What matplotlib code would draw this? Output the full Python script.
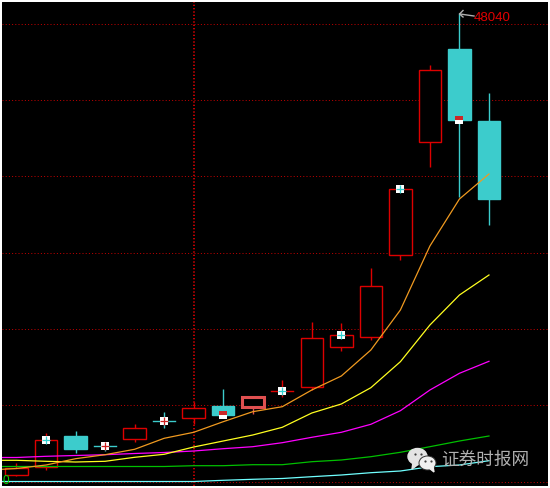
import matplotlib
matplotlib.use('Agg')
import matplotlib.pyplot as plt
from matplotlib.patches import Ellipse, Polygon, Rectangle

# readings are height above the zero line of the chart
opens  = [6.8, 15, 45.5, 35.2, 42.5, 60.2, 63.8, 75.5, 74.2, 90.2, 94.5, 134.5, 144.5, 226.5, 339.5, 432.5, 360.5]
closes = [13.8, 41.5, 32.5, 35.2, 53.5, 60.2, 73.5, 66.5, 84.8, 90.2, 143.5, 146.5, 195.5, 292.5, 411.5, 361.5, 282.5]
highs  = [18.5, 48.5, 50.5, 39.5, 57.5, 69.5, 79.8, 92.5, 84.8, 101.5, 159.5, 158.5, 213.5, 292.5, 416.5, 468.5, 388.5]
lows   = [5.5, 11.5, 28.5, 30.5, 39.5, 53.5, 57.8, 66.5, 67.5, 84.8, 91.5, 130.5, 141.5, 222, 314.5, 284.5, 256.5]
doji_cyan = [3, 5]
salmon_bar = 8

ma_x = [-0.5, 0, 1, 2, 3, 4, 5, 6, 7, 8, 9, 10, 11, 12, 13, 14, 15, 16]
ma_orange  = [12.2, 13, 16.5, 22.8, 26.8, 32.2, 43.2, 49.2, 59.8, 69.8, 74.8, 91.5, 105.5, 131.5, 171.5, 235.5, 282.5, 307.5]
ma_yellow  = [21.2, 21.2, 20.2, 19.5, 20.2, 24.2, 27.2, 34.5, 40.5, 46.5, 54.2, 68.5, 77.5, 93.8, 119.8, 156.5, 186.5, 206.5]
ma_magenta = [24, 24, 25.2, 26, 26.8, 28, 29, 30.5, 32.8, 34.8, 38.8, 44.2, 49.2, 57.2, 70.8, 91.5, 108.2, 120.2]
ma_green   = [15, 15, 15, 15, 15, 15, 15, 15.8, 15.8, 16.8, 16.8, 19.8, 21.5, 24.8, 29.2, 34.8, 40.5, 45.5]
ma_cyan    = [0, 0, 0, 0, 0, 0, 0, 0, 1.2, 2.2, 3, 4.8, 6.5, 8.8, 10.5, 14.8, 16.5, 20.8]

grid_levels = [0, 76.3, 152.5, 228.5, 305.5, 381.5, 457.5]
grid_bar = 6

# small square flags on some bars: index, level, cross colour
flags = [(1, 41.5, '#30d0d0'), (3, 35.2, '#cc2020'), (5, 60.2, '#cc2020'), (9, 90.2, '#30d0d0'),
         (11, 146.5, '#30d0d0'), (13, 292.5, '#30d0d0')]
half_flags = [(7, 66.5), (15, 361.5)]

peak_label = '48040'
zero_label = '0'
source_label = '证券时报网'

RED = '#dd0000'
CYAN = '#3ccccc'

fig = plt.figure(figsize=(5.5, 4.88), dpi=100, facecolor='white')
ax = fig.add_axes([2/550, 2/488, 546/550, 484/488], facecolor='black')
ax.set_xlim(-0.491, 17.999)
ax.set_ylim(-4.5, 479.5)
ax.axis('off')
ax.add_patch(Rectangle((0, 0), 1, 1, transform=ax.transAxes, color='black', zorder=0))

for g in grid_levels:
    ax.axhline(g, color='#c00000', lw=0.72, ls=(0, (1, 2.2)), zorder=1)
ax.axvline(grid_bar, color='#e00000', lw=1.2, ls=(0, (0.8, 1.2)), zorder=1)

w = 0.76
for i in range(len(opens)):
    o, c, h, l = opens[i], closes[i], highs[i], lows[i]
    top, bot = max(o, c), min(o, c)
    falling = c < o or i in doji_cyan
    col = CYAN if falling else RED
    if i == salmon_bar:
        col = '#e05050'
    lw = 2.2 if i == salmon_bar else 1.0
    ax.plot([i, i], [l, bot], color=col, lw=1, zorder=2, solid_capstyle='butt')
    ax.plot([i, i], [top, h], color=col, lw=1, zorder=2, solid_capstyle='butt')
    if top == bot:
        ax.plot([i - w/2, i + w/2], [top, top], color=col, lw=1, zorder=2)
    else:
        ax.add_patch(Rectangle((i - w/2, bot), w, top - bot, facecolor=CYAN if falling else 'black',
                               edgecolor=col, lw=lw, zorder=2))

ax.plot(ma_x, ma_cyan, color='#70ffff', lw=0.9, zorder=3)
ax.plot(ma_x, ma_green, color='#00c000', lw=0.9, zorder=3)
ax.plot(ma_x, ma_magenta, color='#ff00ff', lw=0.9, zorder=3)
ax.plot(ma_x, ma_yellow, color='#ffff20', lw=0.9, zorder=3)
ax.plot(ma_x, ma_orange, color='#f09a20', lw=0.9, zorder=3)

for i, lev, col in flags:
    ax.plot(i, lev, 's', ms=5.2, color='white', mew=0, zorder=4)
    ax.plot(i, lev, '+', ms=5.2, color=col, mew=0.9, zorder=5)
for i, lev in half_flags:
    ax.plot(i, lev, 's', ms=5.2, fillstyle='top', markerfacecolor='#cc2828',
            markerfacecoloralt='white', mew=0, zorder=4)

ax.text(15.47, 463.5, peak_label, color='#e00000', fontsize=9.5, family='Liberation Sans', va='center', zorder=6)
ax.text(-0.49, 0.5, zero_label, color='#00e000', fontsize=8.5, family='Liberation Sans', va='center', ha='left', zorder=6)

# overlay in image pixels for the arrow and the watermark
ov = fig.add_axes([0, 0, 1, 1])
ov.set_xlim(0, 550)
ov.set_ylim(488, 0)
ov.axis('off')
ov.patch.set_alpha(0)
ov.plot([474, 467, 460], [16, 15, 14], color='#b0b0b0', lw=1)
ov.plot([463, 459.5, 463], [10.5, 14, 17], color='#b0b0b0', lw=1)

ov.add_patch(Ellipse((417.5, 456.5), 19, 16, color='#e4e4e4', zorder=2))
ov.add_patch(Polygon([(413, 462), (412, 469), (420, 463)], color='#e4e4e4', zorder=2))
ov.add_patch(Ellipse((427.5, 463), 17, 14, facecolor='#f0f0f0', edgecolor='#303030', lw=0.7, zorder=3))
ov.add_patch(Polygon([(429, 468), (434, 472), (433, 466)], color='#f0f0f0', zorder=3))
for ex, ey in [(414.5, 453.5), (420.5, 453.5), (424.5, 461), (430.5, 461)]:
    ov.plot(ex, ey, 'o', ms=1.6, color='#404040', mew=0, zorder=4)
ov.text(441, 460, source_label, color='#b0b0b0', fontsize=12.7, family='Noto Sans CJK SC', va='center', ha='left', zorder=4)

fig.savefig('out.png', dpi=100, facecolor='white')
